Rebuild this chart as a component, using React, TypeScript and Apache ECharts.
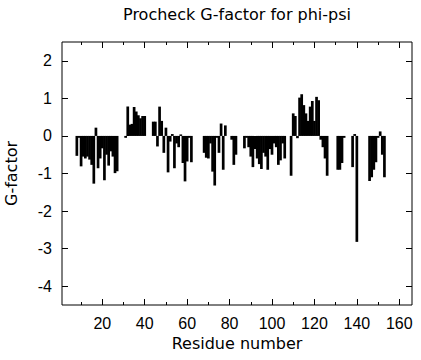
import React, { useEffect, useRef } from "react";
import * as echarts from "echarts";

const residues = [
  8, 9, 10, 11, 12, 13, 14, 15, 16, 17, 18, 19, 20, 21, 22, 23, 24, 25, 26, 27,
  31, 32, 33, 34, 35, 36, 37, 38, 39, 40,
  44, 45, 46, 47, 48, 49, 50, 51, 52, 53, 54, 55, 56, 57, 58, 59, 60, 61, 62,
  68, 69, 70, 71, 72, 73, 74, 75, 76, 77, 78,
  81, 82, 83,
  87, 88, 89, 90, 91, 92, 93, 94, 95, 96, 97, 98, 99, 100, 101, 102, 103, 104, 105, 106,
  109, 110, 111, 112, 113, 114, 115, 116, 117, 118, 119, 120, 121, 122, 123, 124, 125, 126,
  131, 132, 133, 134,
  138, 139, 140,
  146, 147, 148, 149, 150, 151, 152, 153,
];

const gFactor = [
  -0.53, -0.05, -0.81, -0.55, -0.6, -0.55, -0.63, -0.77, -1.27, 0.22, -0.86, -0.6, -0.33, -1.18, -0.5, -0.79, -0.41, -0.55, -0.99, -0.94,
  -0.05, 0.78, 0.3, 0.32, 0.77, 0.65, 0.55, 0.47, 0.53, 0.53,
  0.38, 0.38, -0.28, 0.78, 0.4, -0.45, 0.22, -0.97, -0.15, 0.05, -0.86, -0.2, -0.3, 0.04, -0.72, -1.21, -0.68, -0.05, -0.7,
  -0.45, -0.58, -0.6, -0.2, -0.95, -1.32, -0.05, -0.45, 0.33, -0.9, 0.28,
  -0.1, -0.77, -0.5,
  -0.33, -0.05, -0.3, -0.55, -0.83, -0.35, -0.6, -0.75, -0.88, -0.45, -0.55, -0.9, -0.35, -0.5, -0.2, -0.3, -0.77, -0.65, -0.2, -0.6,
  -1.06, 0.6, 0.53, -0.06, 1.02, 1.11, 0.82, 0.6, 0.4, 0.78, 0.93, 0.4, 1.04, 0.95, -0.1, -0.3, -0.6, -1.06,
  -0.9, -0.9, -0.72, -0.05,
  -0.83, 0.05, -2.82,
  -1.2, -1.1, -0.9, -0.7, -0.05, 0.12, -0.5, -1.1,
];

const xMajorTicks = [20, 40, 60, 80, 100, 120, 140, 160];
const xMinorTicks = [10, 30, 50, 70, 90, 110, 130, 150];
const yTicks = [-4, -3, -2, -1, 0, 1, 2];

const NUM_FONT = "'Liberation Sans', Arial, Helvetica, sans-serif";
const TEXT_FONT = "'DejaVu Sans', sans-serif";

export default function App() {
  const ref = useRef<HTMLDivElement>(null);
  useEffect(() => {
    if (!ref.current) return;
    const chart = echarts.init(ref.current, undefined, { renderer: "svg" });
    const data = residues.map((r, i) => [r, gFactor[i]]);
    const baseX = {
      type: "value",
      min: 1,
      max: 166,
      gridIndex: 0,
      axisLine: { show: false, onZero: false },
      splitLine: { show: false },
    };
    const baseY = {
      type: "value",
      min: -4.5,
      max: 2.5,
      gridIndex: 0,
      axisLine: { show: false, onZero: false },
      splitLine: { show: false },
    };
    const tick = (vals: number[], len: number) => ({
      show: true,
      inside: true,
      length: len,
      customValues: vals,
      lineStyle: { color: "#000", width: 1 },
    });
    chart.setOption({
      animation: false,
      grid: {
        left: 62,
        right: 9,
        top: 42,
        bottom: 55,
        containLabel: false,
        outerBoundsMode: "none",
        show: true,
        borderColor: "#000",
        borderWidth: 1,
        backgroundColor: "transparent",
      },
      graphic: [
        {
          type: "text",
          x: 237,
          y: 14,
          style: {
            text: "Procheck G-factor for phi-psi",
            fill: "#000",
            fontSize: 16,
            fontFamily: TEXT_FONT,
            textAlign: "center",
            textVerticalAlign: "middle",
          },
        },
      ],
      xAxis: [
        {
          ...baseX,
          position: "bottom",
          axisTick: tick(xMajorTicks, 6),
          axisLabel: {
            customValues: xMajorTicks,
            color: "#000",
            fontSize: 16,
            fontFamily: NUM_FONT,
            margin: 10,
          },
          name: "Residue number",
          nameLocation: "middle",
          nameGap: 28,
          nameTextStyle: { color: "#000", fontSize: 16, fontFamily: TEXT_FONT },
        },
        { ...baseX, position: "bottom", axisTick: tick(xMinorTicks, 3), axisLabel: { show: false } },
        { ...baseX, position: "top", axisTick: tick(xMajorTicks, 6), axisLabel: { show: false } },
        { ...baseX, position: "top", axisTick: tick(xMinorTicks, 3), axisLabel: { show: false } },
      ],
      yAxis: [
        {
          ...baseY,
          position: "left",
          axisTick: tick(yTicks, 6),
          axisLabel: {
            customValues: yTicks,
            color: "#000",
            fontSize: 16,
            fontFamily: NUM_FONT,
            margin: 10,
          },
          name: "G-factor",
          nameLocation: "middle",
          nameGap: 43,
          nameTextStyle: { color: "#000", fontSize: 16, fontFamily: TEXT_FONT },
        },
        {
          ...baseY,
          position: "right",
          axisTick: tick(yTicks, 6),
          axisLabel: { show: false },
        },
      ],
      series: [
        {
          type: "bar",
          xAxisIndex: 0,
          yAxisIndex: 0,
          data,
          barWidth: 2.7,
          itemStyle: { color: "#000" },
        },
      ],
    });
    return () => chart.dispose();
  }, []);
  return <div ref={ref} style={{ width: 421, height: 360, position: "absolute", left: 0, top: 0 }} />;
}
